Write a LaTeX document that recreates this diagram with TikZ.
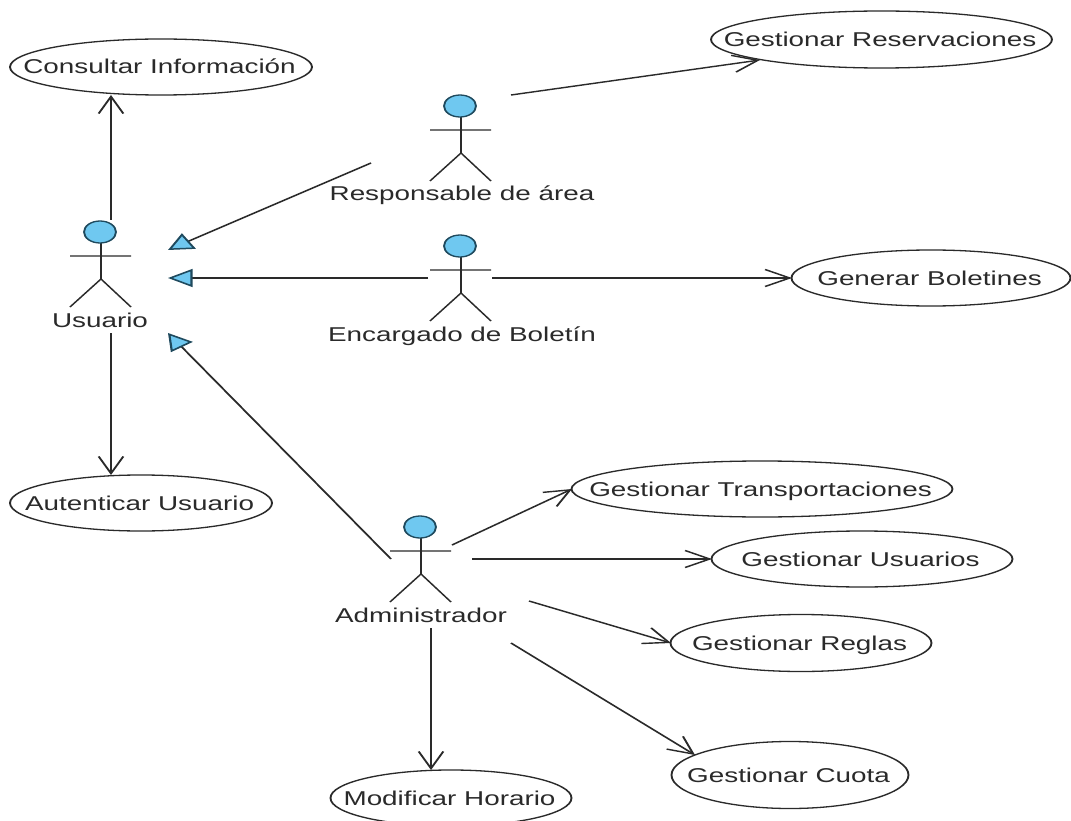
\documentclass[tikz,border=0pt]{standalone}
\usepackage{fontspec}
\setmainfont{Liberation Sans}
\newfontfamily\ucfont[FakeStretch=0.96]{Liberation Sans}
\usetikzlibrary{shapes.geometric,arrows.meta}
\definecolor{actorblue}{HTML}{6FC8F0}
\definecolor{ink}{HTML}{2A2A2A}
\definecolor{headline}{HTML}{1F4A5E}
\newcommand{\zw}[1]{\makebox[0pt]{\hspace*{-2pt}#1}}
\tikzset{
  every picture/.style={x=1pt,y=-1pt},
  conn/.style={draw=ink,line width=1.4pt},
  assoc/.style={conn,-{Straight Barb[length=17pt,width=17pt,line width=1.4pt]}},
  gener/.style={conn,-{Triangle[length=17pt,width=18pt,fill=actorblue,color=headline,line width=1.5pt]}},
  uw/.style={minimum width=#1pt/1.45},
  ucase/.style={ellipse,draw=ink,line width=1.3pt,fill=white,inner sep=0pt,text=ink,text height=14pt,text depth=0pt,font=\ucfont\fontsize{20}{24}\selectfont},
  lbl/.style={inner sep=0pt,text=ink,text height=14pt,text depth=0pt,font=\ucfont\fontsize{20}{24}\selectfont},
  head/.style={ellipse,draw=headline,line width=1.3pt,fill=actorblue,uw=32,minimum height=22pt,inner sep=0pt},
  fig/.style={draw=ink,line width=1.2pt},
  actor/.pic={
    \draw[fig] (1,11) -- (1,47) (-30,24) -- (31,24) (-30,75) -- (1,47) -- (31,75);
    \node[head] at (0,0) {};
  }
}
\begin{document}
\begin{tikzpicture}
\useasboundingbox (0,0) rectangle (1071,821);
\fill[white] (0,0) rectangle (1071,821);
\clip (0,0) rectangle (1071,821);
\begin{scope}[transform canvas={xscale=1.45},x=0.689655pt]
% use cases
\node[ucase,uw=302,minimum height=56pt] (info) at (161,67) {\zw{Consultar Información}};
\node[ucase,uw=341,minimum height=57pt] (reserv) at (881.5,39.5) {\zw{Gestionar Reservaciones}};
\node[ucase,uw=279,minimum height=56pt] (bolet) at (931,278) {\zw{Generar Boletines}};
\node[ucase,uw=381,minimum height=56pt] (transp) at (762,489) {\zw{Gestionar Transportaciones}};
\node[ucase,uw=301,minimum height=56pt] (usuarios) at (862,559) {\zw{Gestionar Usuarios}};
\node[ucase,uw=261,minimum height=57pt] (reglas) at (801,643) {\zw{Gestionar Reglas}};
\node[ucase,uw=237,minimum height=67pt] (cuota) at (790,775) {\zw{Gestionar Cuota}};
\node[ucase,uw=241,minimum height=56pt] (horario) at (451,798) {\zw{Modificar Horario}};
\node[ucase,uw=262,minimum height=56pt] (autent) at (141,503) {\zw{Autenticar Usuario}};
% actors
\pic at (100,232) {actor};
\pic at (460,106) {actor};
\pic at (460,246) {actor};
\pic at (420,527) {actor};
\node[lbl] (lusuario) at (100,320) {Usuario};
\node[lbl] (lresp) at (462,194) {Responsable de área};
\node[lbl] (lencarg) at (462,334) {Encargado de Boletín};
\node[lbl] (ladmin) at (421,615) {Administrador};
% free ends of the connectors
\coordinate (a1) at (111,220);
\coordinate (a2) at (111,333);
\coordinate (u1) at (168,250);
\coordinate (u2) at (168,278);
\coordinate (u3) at (168,333);
\coordinate (r1) at (371,163);
\coordinate (r2) at (511,95);
\coordinate (e1) at (428,278);
\coordinate (e2) at (492,278);
\coordinate (d1) at (391,559);
\coordinate (d2) at (452,545);
\coordinate (d3) at (472,559);
\coordinate (d4) at (529,601);
\coordinate (d5) at (511,643);
\coordinate (d6) at (431,628);
\coordinate (t1) at (572,489);
\coordinate (t2) at (760,60);
\coordinate (t3) at (111,95);
\coordinate (t4) at (111,475);
\coordinate (t5) at (792,278);
\coordinate (t6) at (712,559);
\coordinate (t7) at (671,643);
\coordinate (t8) at (695,755);
\coordinate (t9) at (431,770);
% associations
\draw[assoc] (a1) -- (t3);
\draw[assoc] (a2) -- (t4);
\draw[assoc] (r2) -- (t2);
\draw[assoc] (e2) -- (t5);
\draw[assoc] (d2) -- (t1);
\draw[assoc] (d3) -- (t6);
\draw[assoc] (d4) -- (t7);
\draw[assoc] (d5) -- (t8);
\draw[assoc] (d6) -- (t9);
% generalisations
\draw[gener] (r1) -- (u1);
\draw[gener] (e1) -- (u2);
\draw[gener] (d1) -- (u3);
\end{scope}
\end{tikzpicture}
\end{document}
